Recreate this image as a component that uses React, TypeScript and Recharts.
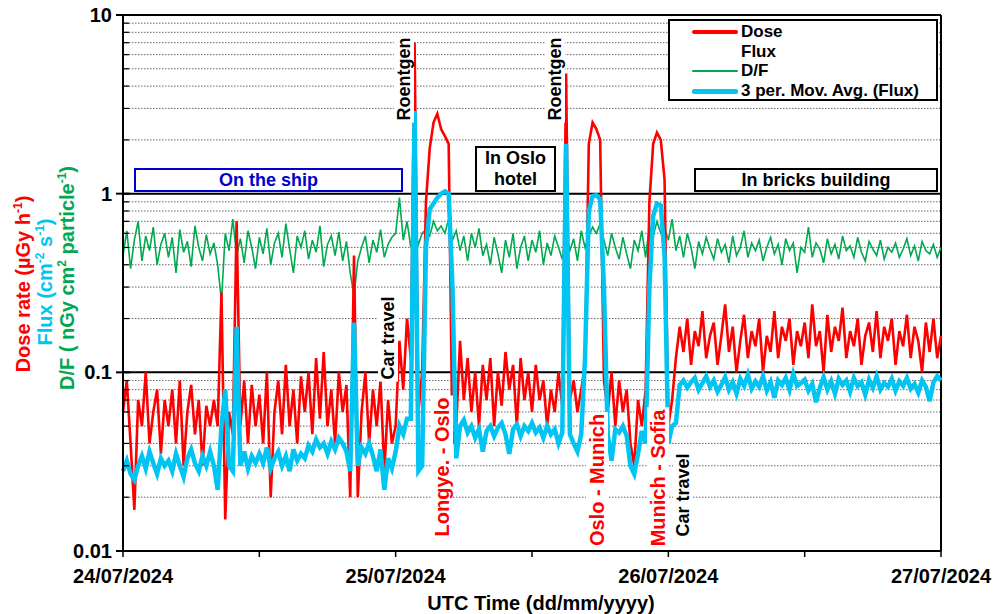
import React from 'react'
import { ComposedChart, Line, XAxis, YAxis, CartesianGrid, ReferenceLine } from 'recharts'

if (typeof document !== 'undefined') document.body.style.margin = '0'

const FONT = '"Liberation Sans", Arial, sans-serif'
const RED = '#ff0000'
const CYAN = '#00c4f2'
const GREEN = '#00a850'

// one sample every 20 min, from 24/07/2024 00:00 to 27/07/2024 00:00 UTC
const STEP_H = 1 / 3

// Dose rate, µGy/h
const dose = [
  0.06, 0.09, 0.04, 0.017, 0.07, 0.05, 0.1, 0.04, 0.06, 0.08, 0.035, 0.07,
  0.05, 0.08, 0.04, 0.09, 0.03, 0.06, 0.085, 0.045, 0.07, 0.03, 0.065, 0.05,
  0.07, 0.05, 0.28, 0.015, 0.06, 0.045, 0.7, 0.05, 0.09, 0.04, 0.085, 0.05,
  0.075, 0.04, 0.1, 0.02, 0.06, 0.09, 0.045, 0.11, 0.05, 0.08, 0.04, 0.095,
  0.06, 0.1, 0.045, 0.12, 0.055, 0.13, 0.05, 0.08, 0.04, 0.1, 0.06, 0.085,
  0.02, 0.45, 0.02, 0.06, 0.1, 0.04, 0.08, 0.05, 0.09, 0.028, 0.07, 0.04,
  0.05, 0.15, 0.08, 0.2, 0.12, 7.0, 0.06, 0.1, 0.9, 1.8, 2.5, 2.8,
  2.3, 2.1, 1.9, 0.04, 0.05, 0.15, 0.07, 0.12, 0.06, 0.1, 0.05, 0.11,
  0.07, 0.12, 0.05, 0.1, 0.065, 0.13, 0.08, 0.11, 0.05, 0.12, 0.07, 0.1,
  0.06, 0.11, 0.07, 0.09, 0.05, 0.08, 0.06, 0.1, 0.065, 4.7, 0.07, 0.09,
  0.06, 0.08, 0.11, 1.9, 2.5, 2.3, 2.0, 0.09, 0.06, 0.1, 0.05, 0.09,
  0.06, 0.08, 0.04, 0.03, 0.07, 0.05, 0.08, 0.9, 1.9, 2.2, 2.0, 1.2,
  0.05, 0.07, 0.12, 0.18, 0.13, 0.2, 0.11, 0.17, 0.14, 0.22, 0.12, 0.16,
  0.19, 0.11, 0.16, 0.24, 0.13, 0.18, 0.1, 0.15, 0.21, 0.12, 0.17, 0.14,
  0.2, 0.1, 0.16, 0.13, 0.22, 0.12, 0.18, 0.15, 0.2, 0.11, 0.17, 0.14,
  0.19, 0.12, 0.24, 0.14, 0.17, 0.1, 0.21, 0.13, 0.18, 0.15, 0.23, 0.12,
  0.17, 0.14, 0.2, 0.11, 0.16, 0.19, 0.13, 0.22, 0.12, 0.18, 0.15, 0.2,
  0.11, 0.17, 0.14, 0.21, 0.12, 0.18, 0.15, 0.1, 0.19, 0.13, 0.2, 0.12,
  0.16,
]

// 3 period moving average of flux, cm-2 s-1
const fluxAvg = [
  0.028, 0.032, 0.027, 0.025, 0.03, 0.034, 0.029, 0.036, 0.031, 0.027, 0.033, 0.03,
  0.032, 0.028, 0.035, 0.03, 0.026, 0.033, 0.037, 0.031, 0.028, 0.034, 0.03, 0.036,
  0.03, 0.022, 0.05, 0.08, 0.03, 0.028, 0.18, 0.03, 0.036, 0.029, 0.034, 0.031,
  0.035, 0.031, 0.038, 0.029, 0.033, 0.036, 0.03, 0.034, 0.028, 0.037, 0.032, 0.035,
  0.033, 0.039, 0.036, 0.042, 0.038, 0.04, 0.035, 0.041, 0.037, 0.043, 0.04, 0.036,
  0.028, 0.19, 0.03, 0.038, 0.035, 0.04, 0.034, 0.028, 0.037, 0.022, 0.033, 0.029,
  0.036, 0.05, 0.045, 0.055, 0.055, 2.9, 0.028, 0.03, 0.5, 0.82, 0.88, 0.95,
  1.0, 1.03, 1.0, 0.3, 0.033, 0.05, 0.054, 0.046, 0.05, 0.043, 0.048, 0.036,
  0.047, 0.05, 0.044, 0.049, 0.052, 0.045, 0.035, 0.048, 0.051, 0.044, 0.05, 0.047,
  0.052, 0.046, 0.049, 0.043, 0.05, 0.045, 0.048, 0.04, 0.046, 1.9, 0.045, 0.04,
  0.036, 0.045, 0.12, 0.8, 0.97, 0.98, 0.93, 0.3, 0.045, 0.032, 0.048, 0.046,
  0.05, 0.044, 0.03, 0.027, 0.035, 0.047, 0.04, 0.3, 0.75, 0.88, 0.86, 0.45,
  0.04, 0.05, 0.052, 0.085, 0.09, 0.082, 0.088, 0.093, 0.08, 0.087, 0.095, 0.083,
  0.09, 0.078, 0.085, 0.094, 0.08, 0.088, 0.076, 0.092, 0.084, 0.097, 0.081, 0.089,
  0.083, 0.095, 0.079, 0.088, 0.072, 0.09, 0.085, 0.093, 0.08, 0.098, 0.084, 0.087,
  0.091, 0.079, 0.086, 0.068, 0.082, 0.094, 0.08, 0.089, 0.076, 0.092, 0.085, 0.09,
  0.078, 0.093, 0.084, 0.088, 0.075, 0.091, 0.082, 0.095, 0.08, 0.087, 0.083, 0.092,
  0.079, 0.089, 0.084, 0.093, 0.081, 0.086, 0.077, 0.09, 0.083, 0.069, 0.088, 0.095,
  0.09,
]

// D/F, nGy cm2 per particle
const doseFlux = [
  0.45, 0.62, 0.38, 0.55, 0.7, 0.42, 0.58, 0.48, 0.65, 0.4, 0.52, 0.6,
  0.44, 0.57, 0.36, 0.63, 0.47, 0.54, 0.39, 0.66, 0.5, 0.42, 0.59, 0.46,
  0.53, 0.4, 0.25, 0.6, 0.48, 0.72, 0.45, 0.56, 0.41, 0.62, 0.5, 0.38,
  0.57, 0.46, 0.64, 0.4, 0.53, 0.6, 0.44, 0.68, 0.49, 0.36, 0.58, 0.5,
  0.62, 0.43, 0.55, 0.47, 0.66, 0.39, 0.52, 0.58, 0.45, 0.61, 0.42, 0.54,
  0.36, 0.27, 0.42, 0.5, 0.58, 0.41, 0.55, 0.47, 0.63, 0.44, 0.52, 0.57,
  0.6, 0.95, 0.55, 0.7, 0.5, 0.65, 0.52, 0.6, 0.63, 0.58, 0.7, 0.62,
  0.66, 0.6, 0.72, 0.55, 0.62, 0.48, 0.58, 0.42, 0.6, 0.5, 0.64, 0.45,
  0.52, 0.4, 0.57, 0.46, 0.36, 0.55, 0.44, 0.6, 0.38, 0.5, 0.58, 0.42,
  0.55, 0.47, 0.62, 0.4, 0.53, 0.45, 0.58, 0.5, 0.43, 0.6, 0.48, 0.56,
  0.42, 0.62, 0.5, 0.58, 0.65, 0.6, 0.68, 0.55, 0.45, 0.6, 0.5, 0.43,
  0.57, 0.46, 0.38, 0.55, 0.48, 0.62, 0.44, 0.66, 0.58, 0.7, 0.6, 0.64,
  0.55, 0.72, 0.48, 0.58, 0.44, 0.6, 0.5, 0.38, 0.54, 0.46, 0.57, 0.49,
  0.43, 0.56, 0.47, 0.52, 0.41, 0.58, 0.45, 0.5, 0.62, 0.44, 0.53, 0.48,
  0.55, 0.42, 0.5, 0.57, 0.46, 0.52, 0.4, 0.56, 0.48, 0.53, 0.36, 0.5,
  0.47, 0.65, 0.44, 0.53, 0.49, 0.41, 0.56, 0.46, 0.52, 0.43, 0.58, 0.48,
  0.51, 0.44, 0.57, 0.47, 0.42, 0.54, 0.49, 0.45, 0.55, 0.43, 0.5, 0.47,
  0.53, 0.44, 0.49, 0.56, 0.45, 0.51, 0.42, 0.54, 0.48, 0.46, 0.52, 0.44,
  0.5,
]

const dayLabels = ['24/07/2024', '25/07/2024', '26/07/2024', '27/07/2024']
const xTicks = [0, 12, 24, 36, 48, 60, 72]
const yMajor = [0.01, 0.1, 1, 10]
const yMinor = [
  0.02, 0.03, 0.04, 0.05, 0.06, 0.07, 0.08, 0.09,
  0.2, 0.3, 0.4, 0.5, 0.6, 0.7, 0.8, 0.9,
  2, 3, 4, 5, 6, 7, 8, 9,
]

const rows = dose.map((d, i) => ({
  t: i * STEP_H,
  dose: d,
  flux: fluxAvg[i],
  df: doseFlux[i],
}))

const txt = { fontFamily: FONT, fontWeight: 700 as const }

const XTick = (props: any) => {
  const { x, y, payload } = props
  const v = payload.value
  const label = v % 24 === 0 ? dayLabels[v / 24] : null
  return (
    <g>
      <line x1={x} x2={x} y1={y - 1} y2={y + 6} stroke="#000" strokeWidth={1.5} />
      {label && (
        <text x={x} y={y + 32} textAnchor="middle" fontSize={20} fill="#000" style={txt}>{label}</text>
      )}
    </g>
  )
}

const YTick = (props: any) => {
  const { x, y, payload } = props
  const v = payload.value
  if (!yMajor.includes(v)) {
    return <line x1={x} x2={x + 6} y1={y} y2={y} stroke="#000" strokeWidth={1.2} />
  }
  return (
    <g>
      <line x1={x - 7} x2={x + 7} y1={y} y2={y} stroke="#000" strokeWidth={2} />
      <text x={x - 11} y={y + 7} textAnchor="end" fontSize={20} fill="#000" style={txt}>{String(v)}</text>
    </g>
  )
}

const Sup = ({ children }: { children: React.ReactNode }) => (
  <span style={{ fontSize: '0.6em', verticalAlign: '0.7em', lineHeight: 0 }}>{children}</span>
)

const Rot = ({ cx, cy, color = '#000', size = 18, bg = true, children }: any) => (
  <div
    style={{
      position: 'absolute', left: cx, top: cy,
      transform: 'translate(-50%, -50%) rotate(-90deg)',
      whiteSpace: 'nowrap', color, fontSize: size, lineHeight: 1,
      background: bg ? '#fff' : 'transparent', padding: '1px 2px', ...txt,
    }}
  >
    {children}
  </div>
)

const boxStyle = (left: number, top: number, width: number, height: number, color: string) => ({
  position: 'absolute' as const, left, top, width, height,
  border: `2px solid ${color}`, background: '#fff', boxSizing: 'border-box' as const,
  color, fontSize: 18, textAlign: 'center' as const, ...txt,
})

const LegendRow = ({ top, color, width, label }: { top: number; color?: string; width?: number; label: string }) => (
  <div style={{ position: 'absolute', left: 0, top, height: 20, width: 268 }}>
    {color && (
      <div style={{ position: 'absolute', left: 22, top: 10 - (width ?? 2) / 2, width: 46, height: width, background: color, borderRadius: 2 }} />
    )}
    <div style={{ position: 'absolute', left: 71, top: 0, fontSize: 17, lineHeight: '20px', color: '#000', ...txt }}>{label}</div>
  </div>
)

export default function App() {
  return (
    <div style={{ position: 'relative', width: 996, height: 614, background: '#fff' }}>
      <ComposedChart width={996} height={614} data={rows} margin={{ top: 15, right: 55, bottom: 0, left: 0 }}>
        <CartesianGrid vertical={false} stroke="#666" strokeDasharray="1.5 1.5" strokeWidth={1} />
        <XAxis
          type="number"
          dataKey="t"
          domain={[0, 72]}
          ticks={xTicks}
          interval={0}
          height={63}
          tickSize={0}
          tickMargin={0}
          tickLine={false}
          axisLine={{ stroke: '#000', strokeWidth: 2 }}
          tick={<XTick />}
        />
        <YAxis
          scale="log"
          type="number"
          domain={[0.01, 10]}
          allowDataOverflow
          ticks={[...yMajor, ...yMinor]}
          interval={0}
          width={123}
          tickSize={0}
          tickMargin={0}
          tickLine={false}
          axisLine={{ stroke: '#000', strokeWidth: 2 }}
          tick={<YTick />}
        />
        <ReferenceLine y={0.1} stroke="#000" strokeWidth={2} />
        <ReferenceLine y={1} stroke="#000" strokeWidth={2} />
        <ReferenceLine y={10} stroke="#000" strokeWidth={2} />
        <ReferenceLine x={72} stroke="#000" strokeWidth={2} />

        <Line dataKey="df" stroke={GREEN} strokeWidth={1.6} dot={false} isAnimationActive={false} strokeLinejoin="miter" />
        <Line dataKey="dose" stroke={RED} strokeWidth={2.6} dot={false} isAnimationActive={false} strokeLinejoin="miter" />
        <Line dataKey="flux" stroke={CYAN} strokeWidth={4.5} dot={false} isAnimationActive={false} />
      </ComposedChart>

      {/* x axis title */}
      <div style={{ position: 'absolute', left: 541, top: 593, transform: 'translateX(-50%)', whiteSpace: 'nowrap', fontSize: 20, lineHeight: '20px', color: '#000', ...txt }}>
        UTC Time (dd/mm/yyyy)
      </div>

      {/* y axis title, three coloured lines */}
      <Rot cx={23} cy={284} color={RED} size={20} bg={false}>Dose rate (µGy h<Sup>-1</Sup>)</Rot>
      <Rot cx={45} cy={282} color={CYAN} size={20} bg={false}>Flux (cm<Sup>-2</Sup> s<Sup>-1</Sup>)</Rot>
      <Rot cx={67} cy={278} color={GREEN} size={20} bg={false}>D/F ( nGy cm<Sup>2</Sup> particle<Sup>-1</Sup>)</Rot>

      {/* location boxes */}
      <div style={{ ...boxStyle(134, 168, 269, 24, '#0000cc'), lineHeight: '20px' }}>On the ship</div>
      <div style={{ ...boxStyle(475, 146, 81, 46, '#000'), lineHeight: '21px' }}>In Oslo<br />hotel</div>
      <div style={{ ...boxStyle(694, 168, 244, 24, '#000'), lineHeight: '20px' }}>In bricks building</div>

      {/* event labels */}
      <Rot cx={404} cy={79}>Roentgen</Rot>
      <Rot cx={555} cy={79}>Roentgen</Rot>
      <Rot cx={388} cy={338}>Car travel</Rot>
      <Rot cx={683} cy={495}>Car travel</Rot>
      <Rot cx={442} cy={467} color={RED} size={20}>Longye. - Oslo</Rot>
      <Rot cx={597} cy={480} color={RED} size={20}>Oslo - Munich</Rot>
      <Rot cx={658} cy={478} color={RED} size={20}>Munich - Sofia</Rot>

      {/* legend */}
      <div style={{ position: 'absolute', left: 668, top: 19, width: 270, height: 82, border: '2px solid #000', background: '#fff', boxSizing: 'border-box' }}>
        <LegendRow top={1} color={RED} width={4} label="Dose" />
        <LegendRow top={21} label="Flux" />
        <LegendRow top={40} color={GREEN} width={2} label="D/F" />
        <LegendRow top={60} color={CYAN} width={5} label="3 per. Mov. Avg. (Flux)" />
      </div>
    </div>
  )
}
